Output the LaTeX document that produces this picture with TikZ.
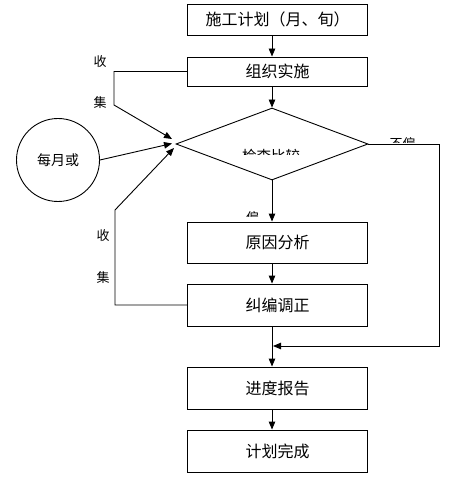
\documentclass[tikz,border=0pt]{standalone}
\usepackage{fontspec}
\setmainfont{Noto Sans CJK SC}
\usetikzlibrary{shapes.geometric,arrows.meta}
\begin{document}
\begin{tikzpicture}
[-,line width=0.9pt,x=1pt,y=-1pt,%
  box/.style={shape=rectangle,draw,inner sep=0pt,minimum width=180pt,font=\fontsize{16}{16}\selectfont},%
  lbl/.style={inner sep=0pt,font=\fontsize{13}{13}\selectfont},%
  arr/.style={-{Triangle[length=8pt,width=6.5pt]}}]
\useasboundingbox (0,0) rectangle (466,478);
\node[box,minimum height=31pt] (plan) at (277.5,19.5) {施工计划（月、旬）};
\node[box,minimum height=29pt] (impl) at (277.5,71.5) {组织实施};
\node[shape=diamond,draw,inner sep=0pt,minimum width=192pt,minimum height=72pt] (chk) at (272,144) {};
\node[box,minimum height=41pt] (cause) at (277.5,242.5) {原因分析};
\node[box,minimum height=42pt] (fix) at (277.5,305) {纠编调正};
\node[box,minimum height=42pt] (report) at (277.5,388) {进度报告};
\node[box,minimum height=42pt] (done) at (277.5,451) {计划完成};
\node[shape=circle,draw,minimum size=83pt,inner sep=0pt,font=\fontsize{14}{14}\selectfont] (cyc) at (58,160) {\raisebox{-3pt}{每月或}};
% labels, partly cut off
\begin{scope}
  \clip (230,140) rectangle (320,155);
  \node[lbl,font=\fontsize{14.5}{14.5}\selectfont] (chkt) at (271,155.5) {检查比较};
\end{scope}
\begin{scope}
  \clip (240,205) rectangle (266,216.5);
  \node[lbl] (yes) at (252.5,217.5) {偏};
\end{scope}
\begin{scope}
  \clip (380,130) rectangle (430,142.5);
  \node[lbl] (no) at (402.5,143.5) {不偏};
\end{scope}
\node[lbl] (sa) at (100,62) {收};
\node[lbl] (ja) at (100,103) {集};
\node[lbl] (sb) at (103,236) {收};
\node[lbl] (jb) at (103,278) {集};
% main flow
\draw[arr] (plan.south -| chk) -- (impl.north -| chk);
\draw[arr] (impl.south -| chk) -- (chk.north);
\draw[arr] (chk.south) -- (cause.north -| chk);
\draw[arr] (cause.south -| chk) -- (fix.north -| chk);
\draw[arr] (fix.south -| chk) -- (report.north -| chk);
\draw[arr] (report.south -| chk) -- (done.north -| chk);
% feedback
\coordinate (ka) at (114,105);
\coordinate (kb) at (115,210);
\coordinate (ta) at (172,139);
\coordinate (tb) at (172,143.5);
\coordinate (tc) at (174,148);
\coordinate (rr) at (439,346);
\coordinate (mg) at (273,346);
\draw[arr] (impl.west) -| (ka) -- (ta);
\draw[arr] (cyc.east) -- (tb);
\draw[arr] (fix.west) -| (kb) -- (tc);
\draw[arr] (chk.east) -| (rr) -- (mg);
\end{tikzpicture}
\end{document}
